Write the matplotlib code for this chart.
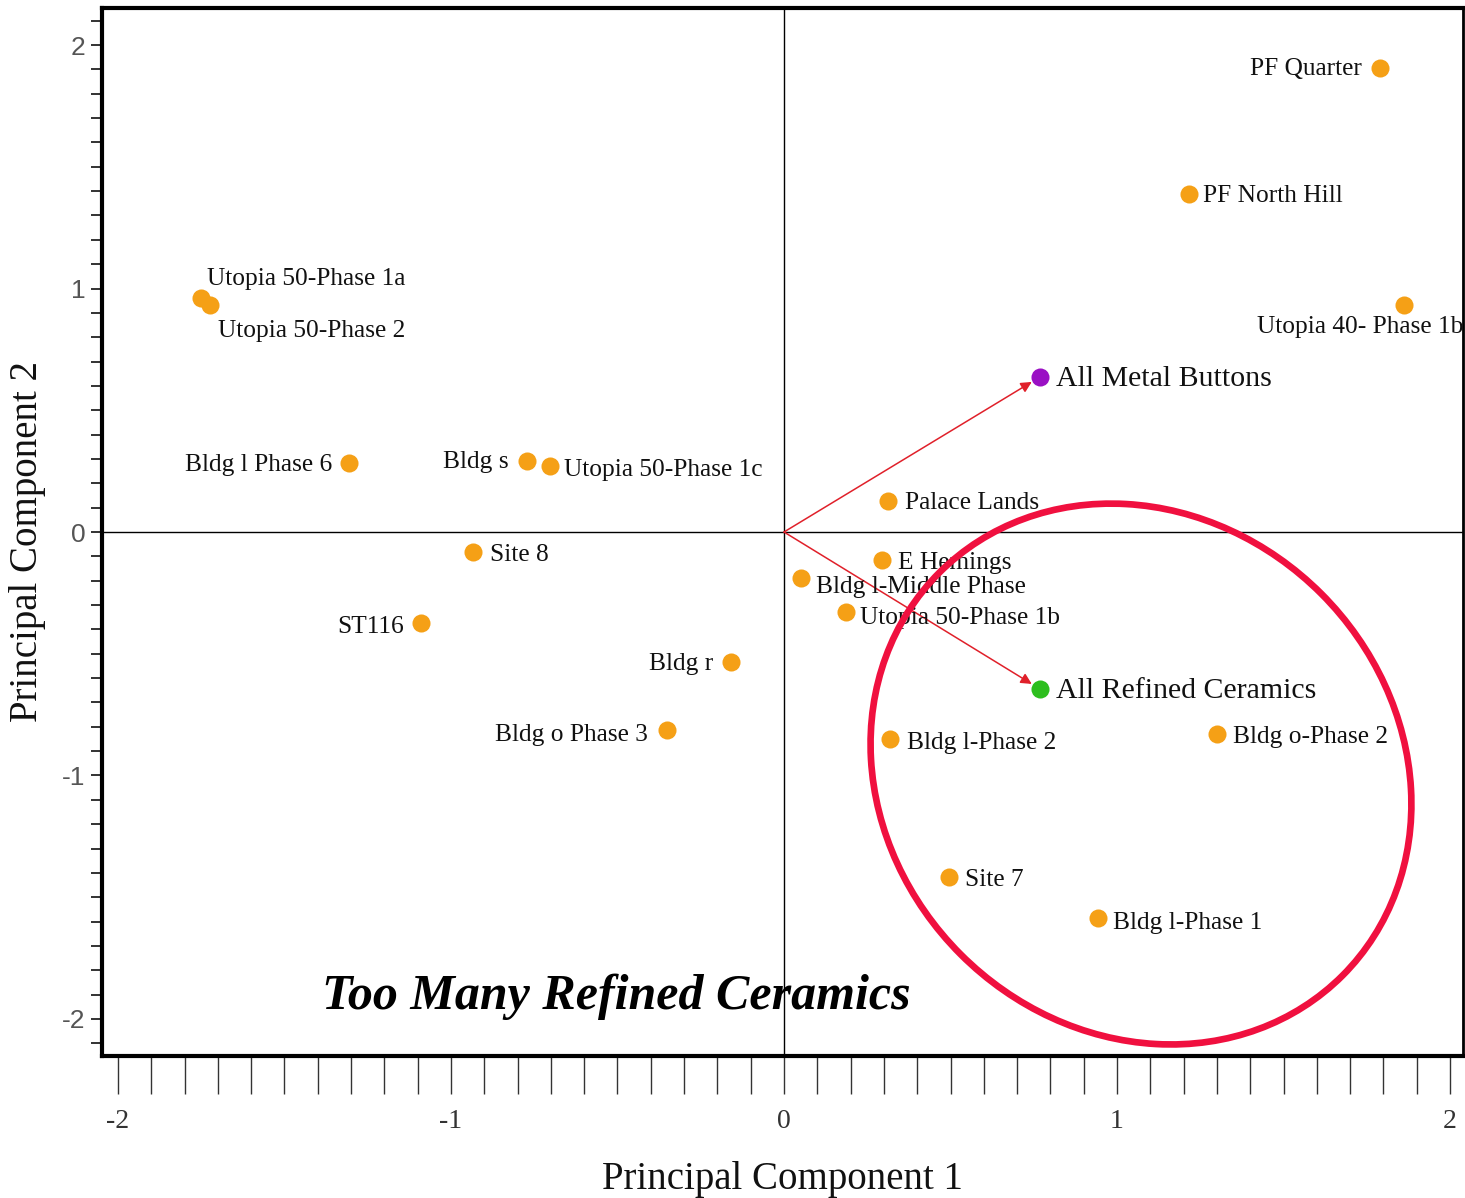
import matplotlib
matplotlib.use("Agg")
import matplotlib.pyplot as plt
from matplotlib.patches import Ellipse
from matplotlib.transforms import ScaledTranslation
from matplotlib.ticker import MultipleLocator

# ---- data ----
site_names = ["PF Quarter", "PF North Hill", "Utopia 40- Phase 1b",
              "Utopia 50-Phase 1a", "Utopia 50-Phase 2", "Bldg l Phase 6",
              "Bldg s", "Utopia 50-Phase 1c", "Palace Lands", "Site 8",
              "E Hemings", "Bldg l-Middle Phase", "Utopia 50-Phase 1b",
              "ST116", "Bldg r", "Bldg o Phase 3", "Bldg l-Phase 2",
              "Bldg o-Phase 2", "Site 7", "Bldg l-Phase 1"]
pc1 = [1.79, 1.216, 1.862, -1.751, -1.724, -1.306, -0.772, -0.703, 0.312,
       -0.934, 0.294, 0.051, 0.186, -1.090, -0.159, -0.351, 0.318, 1.300,
       0.495, 0.943]
pc2 = [1.905, 1.388, 0.932, 0.961, 0.932, 0.283, 0.292, 0.271, 0.127,
       -0.082, -0.115, -0.189, -0.329, -0.374, -0.534, -0.813, -0.850,
       -0.830, -1.417, -1.585]

vector_names = ["All Metal Buttons", "All Refined Ceramics"]
vec_pc1 = [0.769, 0.769]
vec_pc2 = [0.637, -0.645]

x_ticks = [-2, -1, 0, 1, 2]
y_ticks = [-2, -1, 0, 1, 2]
annotation_text = "Too Many Refined Ceramics"

# ---- label placement (pixel offsets, ha) ----
label_pos = {
    "PF Quarter": (-18, -1, "right"),
    "PF North Hill": (14, -2, "left"),
    "Utopia 40- Phase 1b": (59, -22, "right"),
    "Utopia 50-Phase 1a": (6, 19, "left"),
    "Utopia 50-Phase 2": (8, -26, "left"),
    "Bldg l Phase 6": (-17, -2, "right"),
    "Bldg s": (-18, -1, "right"),
    "Utopia 50-Phase 1c": (14, -4, "left"),
    "Palace Lands": (17, -2, "left"),
    "Site 8": (17, -3, "left"),
    "E Hemings": (16, -3, "left"),
    "Bldg l-Middle Phase": (15, -9, "left"),
    "Utopia 50-Phase 1b": (14, -6, "left"),
    "ST116": (-17, -4, "right"),
    "Bldg r": (-18, -2, "right"),
    "Bldg o Phase 3": (-19, -5, "right"),
    "Bldg l-Phase 2": (17, -4, "left"),
    "Bldg o-Phase 2": (16, -3, "left"),
    "Site 7": (16, -3, "left"),
    "Bldg l-Phase 1": (15, -5, "left"),
}

SERIF = ["Liberation Serif", "DejaVu Serif"]
SANS = ["Liberation Sans", "DejaVu Sans"]

fig = plt.figure(figsize=(14.65, 11.98), dpi=100)
ax = fig.add_axes([102 / 1465, 142 / 1198, 1361 / 1465, 1048 / 1198])

ax.set_xlim(-2.048, 2.039)
ax.set_ylim(-2.152, 2.152)

# crosshair
ax.axhline(0, color="black", lw=1.0, zorder=1)
ax.axvline(0, color="black", lw=1.0, zorder=1)

# arrows
for vx, vy in zip(vec_pc1, vec_pc2):
    ax.annotate("", xy=(vx, vy), xytext=(0, 0),
                arrowprops=dict(arrowstyle="-|>", color="#E0202A", lw=1.1,
                                shrinkA=0, shrinkB=7, mutation_scale=16),
                zorder=2)

# site points
ax.plot(pc1, pc2, "o", color="#F5A016", ms=13, mec="none", zorder=3, ls="none")
ax.plot(vec_pc1[:1], vec_pc2[:1], "o", color="#9A10C4", ms=13, mec="none", zorder=3)
ax.plot(vec_pc1[1:], vec_pc2[1:], "o", color="#2DBE1E", ms=13, mec="none", zorder=3)

for name, x, y in zip(site_names, pc1, pc2):
    dx, dy, ha = label_pos[name]
    ax.annotate(name, (x, y), xytext=(dx, dy), textcoords="offset pixels",
                ha=ha, va="center", fontsize=18.3, family=SERIF, color="#111111",
                zorder=4)

for name, x, y in zip(vector_names, vec_pc1, vec_pc2):
    ax.annotate(name, (x, y), xytext=(16, -2), textcoords="offset pixels",
                ha="left", va="center", fontsize=21.5, family=SERIF, color="#111111",
                zorder=4)

# red ellipse highlight
trans = fig.dpi_scale_trans + ScaledTranslation(1.072, -0.994, ax.transData)
ax.add_patch(Ellipse((0, 0), width=5.70, height=5.10, angle=-45,
                     transform=trans, fill=False, ec="#F0103F", lw=4.8, zorder=5))

ax.text(-0.505, -1.91, annotation_text, ha="center", va="center",
        fontsize=36, fontweight="bold", fontstyle="italic", family=SERIF,
        color="black", zorder=6)

# spines
for side in ["left", "top", "bottom"]:
    ax.spines[side].set_linewidth(3)
ax.spines["right"].set_linewidth(2)

# ticks
ax.set_xticks(x_ticks)
ax.set_yticks(y_ticks)
ax.xaxis.set_minor_locator(MultipleLocator(0.1))
ax.yaxis.set_minor_locator(MultipleLocator(0.1))
ax.tick_params(axis="x", which="both", direction="out", length=27, width=1.0,
               color="#333333", pad=11)
ax.tick_params(axis="y", which="both", direction="out", length=8, width=1.4,
               color="#333333", pad=4)
ax.set_xticklabels([str(t) for t in x_ticks], fontsize=20, family=SERIF, color="#333333")
ax.set_yticklabels([str(t) for t in y_ticks], fontsize=19, family=SANS, color="#555555")

ax.set_xlabel("Principal Component 1", fontsize=28, family=SERIF, color="#111111")
ax.set_ylabel("Principal Component 2", fontsize=28, family=SERIF, color="#111111")
ax.xaxis.set_label_coords(0.5, -0.1175)
ax.xaxis.label.set_va("center")
ax.yaxis.set_label_coords(-0.0544, 0.4905)
ax.yaxis.label.set_va("center")

fig.savefig("out.png", dpi=100)
